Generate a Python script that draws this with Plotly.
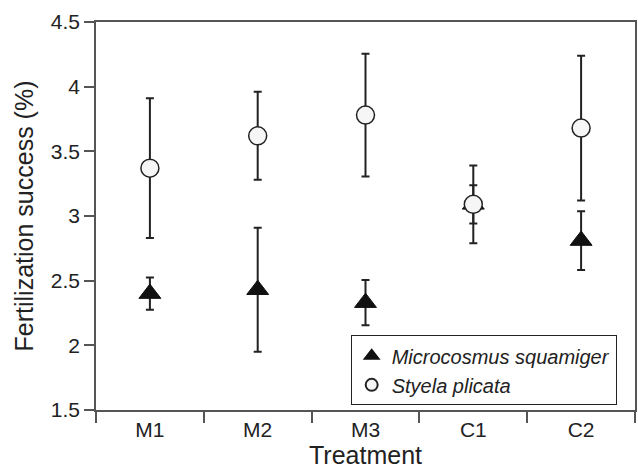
import plotly.graph_objects as go

treatments = ["M1", "M2", "M3", "C1", "C2"]
micro_mean = [2.40, 2.43, 2.33, 3.09, 2.81]
micro_err = [0.125, 0.48, 0.175, 0.148, 0.227]
styela_mean = [3.37, 3.62, 3.78, 3.09, 3.68]
styela_err = [0.54, 0.34, 0.475, 0.30, 0.56]
y_ticks = [1.5, 2, 2.5, 3, 3.5, 4, 4.5]

FONT = "Liberation Sans, Arial, Helvetica, sans-serif"
AX = "#555555"

fig = go.Figure()
fig.add_trace(go.Scatter(
    x=treatments, y=micro_mean, mode="markers",
    name="<i>Microcosmus squamiger</i>",
    marker=dict(symbol="triangle-up", size=19, color="#111111",
                line=dict(color="#111111", width=1)),
    error_y=dict(type="data", array=micro_err, visible=True,
                 color="#222222", thickness=2, width=4),
))
fig.add_trace(go.Scatter(
    x=treatments, y=styela_mean, mode="markers",
    name="<i>Styela plicata</i>",
    marker=dict(symbol="circle", size=18, color="#f6f6f6",
                line=dict(color="#222222", width=1.5)),
    error_y=dict(type="data", array=styela_err, visible=True,
                 color="#222222", thickness=2, width=4),
))

fig.update_layout(
    width=638, height=469,
    margin=dict(l=96, r=1, t=22, b=59),
    plot_bgcolor="white", paper_bgcolor="white",
    font=dict(family=FONT, color="#222222", size=21),
    showlegend=True,
    legend=dict(x=0.966, y=0.012, xanchor="right", yanchor="bottom",
                bordercolor="#222222", borderwidth=1, bgcolor="white",
                font=dict(size=20), itemsizing="constant",
                tracegroupgap=0, itemwidth=30),
)
fig.update_xaxes(
    type="category", range=[-0.5, 4.5],
    tickson="boundaries", ticks="outside", ticklen=11, tickwidth=1.5,
    tickcolor=AX, showline=True, linecolor=AX, linewidth=1.5, mirror=True,
    showgrid=False, zeroline=False,
    title=dict(text="Treatment", font=dict(size=25), standoff=9),
    tickfont=dict(size=21),
)
fig.update_yaxes(
    range=[1.5, 4.5], tickvals=y_ticks,
    ticks="outside", ticklen=10, tickwidth=1.5, tickcolor=AX,
    showline=True, linecolor=AX, linewidth=1.5, mirror=True,
    showgrid=False, zeroline=False,
    title=dict(text="Fertilization success (%)", font=dict(size=25), standoff=10),
    tickfont=dict(size=21),
)

fig.write_html("out.html")
